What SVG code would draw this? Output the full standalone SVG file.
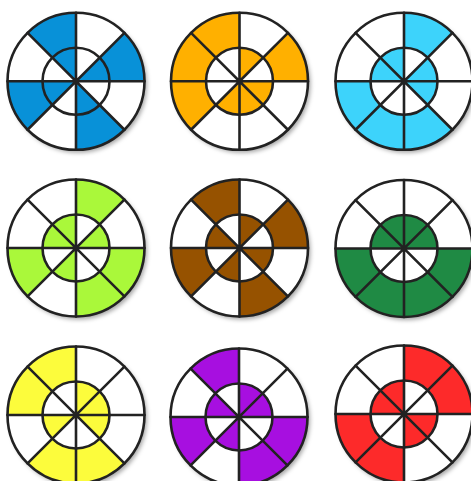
<svg xmlns="http://www.w3.org/2000/svg" xmlns:xlink="http://www.w3.org/1999/xlink" width="471" height="481" viewBox="0 0 471 481">
<style>
.ln{fill:none;stroke:#222;stroke-width:2.6;stroke-linecap:round}
.base{fill:#fff;filter:url(#sh)}
.c1{fill:#0891d8}.c2{fill:#ffb000}.c3{fill:#3dd3fb}.c4{fill:#aaf83a}.c5{fill:#965200}
.c6{fill:#1f8a44}.c7{fill:#fcfc3c}.c8{fill:#a70fe0}.c9{fill:#fd2a2a}
</style>
<defs>
<filter id="sh" x="-20%" y="-20%" width="140%" height="140%">
<feDropShadow dx="2.5" dy="3" stdDeviation="2.2" flood-color="#000" flood-opacity="0.35"/>
</filter>
<path id="o0" d="M0,-68.5A68.5,68.5 0 0 1 48.437,-48.437L23.688,-23.688A33.5,33.5 0 0 0 0,-33.5Z"/>
<path id="o1" d="M48.437,-48.437A68.5,68.5 0 0 1 68.5,0L33.5,0A33.5,33.5 0 0 0 23.688,-23.688Z"/>
<path id="o2" d="M68.5,0A68.5,68.5 0 0 1 48.437,48.437L23.688,23.688A33.5,33.5 0 0 0 33.5,0Z"/>
<path id="o3" d="M48.437,48.437A68.5,68.5 0 0 1 0,68.5L0,33.5A33.5,33.5 0 0 0 23.688,23.688Z"/>
<path id="o4" d="M0,68.5A68.5,68.5 0 0 1 -48.437,48.437L-23.688,23.688A33.5,33.5 0 0 0 0,33.5Z"/>
<path id="o5" d="M-48.437,48.437A68.5,68.5 0 0 1 -68.5,0L-33.5,0A33.5,33.5 0 0 0 -23.688,23.688Z"/>
<path id="o6" d="M-68.5,0A68.5,68.5 0 0 1 -48.437,-48.437L-23.688,-23.688A33.5,33.5 0 0 0 -33.5,0Z"/>
<path id="o7" d="M-48.437,-48.437A68.5,68.5 0 0 1 0,-68.5L0,-33.5A33.5,33.5 0 0 0 -23.688,-23.688Z"/>
<path id="i0" d="M0,0L0,-33.5A33.5,33.5 0 0 1 23.688,-23.688Z"/>
<path id="i1" d="M0,0L23.688,-23.688A33.5,33.5 0 0 1 33.5,0Z"/>
<path id="i2" d="M0,0L33.5,0A33.5,33.5 0 0 1 23.688,23.688Z"/>
<path id="i3" d="M0,0L23.688,23.688A33.5,33.5 0 0 1 0,33.5Z"/>
<path id="i4" d="M0,0L0,33.5A33.5,33.5 0 0 1 -23.688,23.688Z"/>
<path id="i5" d="M0,0L-23.688,23.688A33.5,33.5 0 0 1 -33.5,0Z"/>
<path id="i6" d="M0,0L-33.5,0A33.5,33.5 0 0 1 -23.688,-23.688Z"/>
<path id="i7" d="M0,0L-23.688,-23.688A33.5,33.5 0 0 1 0,-33.5Z"/>
<g id="lines">
<circle class="ln" r="68.5"/>
<circle class="ln" r="33.5"/>
<path class="ln" d="M0,-68.5V68.5M-68.5,0H68.5M-48.437,-48.437L48.437,48.437M48.437,-48.437L-48.437,48.437"/>
</g>
<circle id="base" class="base" r="68.5"/>
</defs>

<g id="wheel1" transform="translate(76,81.3)" class="c1">
<use href="#base"/>
<use href="#o7"/><use href="#o1"/><use href="#o3"/><use href="#o5"/>
<use href="#i7"/><use href="#i1"/><use href="#i3"/><use href="#i5"/>
<use href="#lines"/>
</g>
<g id="wheel2" transform="translate(239.5,81.3)" class="c2">
<use href="#base"/>
<use href="#o7"/><use href="#o6"/><use href="#o5"/><use href="#o1"/>
<use href="#i0"/><use href="#i2"/><use href="#i3"/><use href="#i4"/>
<use href="#lines"/>
</g>
<g id="wheel3" transform="translate(404,81.3)" class="c3">
<use href="#base"/>
<use href="#o0"/><use href="#o5"/><use href="#o4"/><use href="#o3"/>
<use href="#i6"/><use href="#i7"/><use href="#i1"/><use href="#i2"/>
<use href="#lines"/>
</g>
<g id="wheel4" transform="translate(76,248)" class="c4">
<use href="#base"/>
<use href="#o0"/><use href="#o2"/><use href="#o3"/><use href="#o5"/>
<use href="#i6"/><use href="#i7"/><use href="#i1"/><use href="#i4"/>
<use href="#lines"/>
</g>
<g id="wheel5" transform="translate(239.5,248)" class="c5">
<use href="#base"/>
<use href="#o7"/><use href="#o1"/><use href="#o3"/><use href="#o5"/>
<use href="#i6"/><use href="#i0"/><use href="#i2"/><use href="#i4"/>
<use href="#lines"/>
</g>
<g id="wheel6" transform="translate(404,248.5)" class="c6">
<use href="#base"/>
<use href="#o2"/><use href="#o3"/><use href="#o4"/><use href="#o5"/>
<use href="#i6"/><use href="#i7"/><use href="#i0"/><use href="#i1"/>
<use href="#lines"/>
</g>
<g id="wheel7" transform="translate(76,415)" class="c7">
<use href="#base"/>
<use href="#o7"/><use href="#o6"/><use href="#o4"/><use href="#o3"/>
<use href="#i0"/><use href="#i1"/><use href="#i2"/><use href="#i5"/>
<use href="#lines"/>
</g>
<g id="wheel8" transform="translate(239,417)" class="c8">
<use href="#base"/>
<use href="#o7"/><use href="#o5"/><use href="#o3"/><use href="#o2"/>
<use href="#i6"/><use href="#i0"/><use href="#i1"/><use href="#i4"/>
<use href="#lines"/>
</g>
<g id="wheel9" transform="translate(404,414)" class="c9">
<use href="#base"/>
<use href="#o0"/><use href="#o1"/><use href="#o4"/><use href="#o5"/>
<use href="#i6"/><use href="#i7"/><use href="#i2"/><use href="#i3"/>
<use href="#lines"/>
</g>
<g id="connectors"/>
</svg>
